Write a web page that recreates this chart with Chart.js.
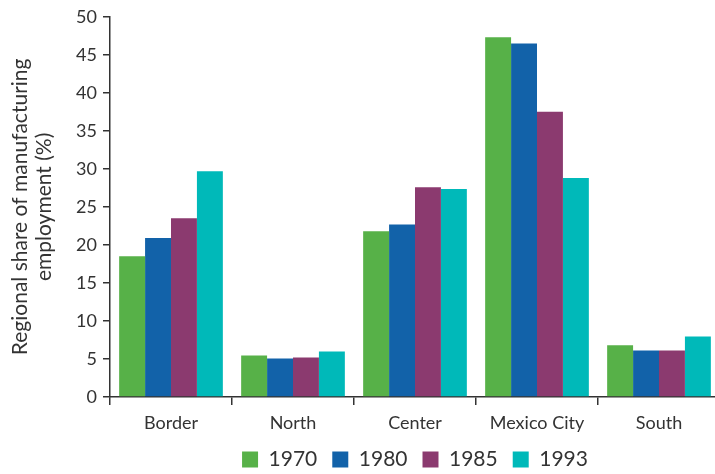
<!DOCTYPE html>
<html><head><meta charset="utf-8">
<script src="https://cdn.jsdelivr.net/npm/chart.js@4/dist/chart.umd.min.js"></script>
<style>html,body{margin:0;padding:0;background:#fff;overflow:hidden}#wrap{width:715px;height:474px;overflow:hidden}</style>
</head><body><div id="wrap"><canvas id="c" width="720" height="474"></canvas></div>
<script>
const categories = ["Border", "North", "Center", "Mexico City", "South"];
const seriesNames = ["1970", "1980", "1985", "1993"];
const v1970 = [18.5, 5.45, 21.8, 47.3, 6.8];
const v1980 = [20.9, 5.05, 22.7, 46.5, 6.1];
const v1985 = [23.5, 5.2, 27.6, 37.5, 6.1];
const v1993 = [29.7, 6.0, 27.35, 28.8, 7.95];
const colors = ["#57b148", "#1262a9", "#8b3a6f", "#00b9b9"];
const values = [v1970, v1980, v1985, v1993];
const FONT = "Lato, 'DejaVu Sans', sans-serif";
new Chart(document.getElementById('c'), {
  type: 'bar',
  data: {
    labels: categories,
    datasets: seriesNames.map((n, i) => ({
      label: n, data: values[i], backgroundColor: colors[i],
      borderWidth: 0, categoryPercentage: 0.85, barPercentage: 1.0
    }))
  },
  options: {
    responsive: false, animation: false,
    layout: { padding: { top: 10, right: 0, left: 8, bottom: -6 } },
    plugins: {
      legend: {
        position: 'bottom', fullSize: false,
        labels: { boxWidth: 16, boxHeight: 16, padding: 15, color: '#333', font: { family: FONT, size: 21 } }
      },
      tooltip: { enabled: false }
    },
    scales: {
      x: {
        afterFit: (s) => { s.height = 37; },
        grid: { drawOnChartArea: false, drawTicks: true, tickLength: 8, color: '#333', lineWidth: 1.5, offset: true },
        border: { color: '#333', width: 1.5 },
        ticks: { color: '#333', font: { family: FONT, size: 18 }, padding: 7 }
      },
      y: {
        min: 0, max: 50,
        afterFit: (s) => { s.width = 102; },
        grid: { drawOnChartArea: false, drawTicks: true, tickLength: 7, color: '#333', lineWidth: 1.5 },
        border: { color: '#333', width: 1.5 },
        ticks: { stepSize: 5, color: '#333', font: { family: FONT, size: 18 }, padding: 6 },
        title: { display: true, text: ["Regional share of manufacturing", "employment (%)"], color: '#333', font: { family: FONT, size: 21, lineHeight: 1.15 }, padding: 0 }
      }
    }
  }
});
</script></body></html>
